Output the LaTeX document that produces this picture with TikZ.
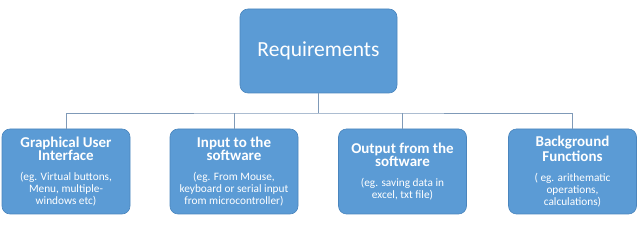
\documentclass[tikz,border=0pt]{standalone}
\usepackage{fontspec}
\setmainfont{Carlito}
\definecolor{boxfill}{HTML}{5B9BD5}
\definecolor{boxline}{HTML}{4A85BD}
\definecolor{conn}{HTML}{7F9AB8}
\newcommand{\ttlfont}{\bfseries\fontsize{15}{16.8}\selectfont}
\newcommand{\subfont}{\mdseries\fontsize{11.3}{11.8}\selectfont}
\begin{document}
\begin{tikzpicture}[x=1pt,y=-1pt,
  box/.style={draw=boxline, line width=0.6pt, fill=boxfill, rounded corners=8pt, text=white, align=center, inner sep=0pt},
  child/.style={box, minimum width=128pt, minimum height=85pt},
  lbl/.style={text=white, align=center, inner sep=0pt},
  wire/.style={draw=conn, line width=0.9pt}]
\useasboundingbox (0,0) rectangle (640,232);
\node[box, minimum width=157pt, minimum height=84pt, font=\fontsize{21.5}{24}\selectfont] (top) at (318.5,51) {Requirements};
\node[child] (b1) at (66,171.5) {};
\node[child] (b2) at (234,171.5) {};
\node[child] (b3) at (402.5,171.5) {};
\node[child] (b4) at (572.5,171.5) {};
\node[lbl] (t1) at (b1.center) {\ttlfont Graphical User\\\ttlfont Interface\\[8pt]\subfont (eg. Virtual buttons,\\\subfont Menu, multiple-\\\subfont windows etc)};
\node[lbl] (t2) at (b2.center) {\ttlfont Input to the\\\ttlfont software\\[8pt]\subfont (eg. From Mouse,\\\subfont keyboard or serial input\\\subfont from microcontroller)};
\node[lbl] (t3) at (b3.center) {\ttlfont Output from the\\\ttlfont software\\[8pt]\subfont (eg. saving data in\\\subfont excel, txt file)};
\node[lbl] (t4) at (b4.center) {\ttlfont Background\\\ttlfont Functions\\[8pt]\subfont ( eg. arithematic\\\subfont operations,\\\subfont calculations)};
\coordinate (bus) at (318.5,113);
\draw[wire] (top.south) -- (bus);
\draw[wire] (b1.north) |- (bus) -| (b4.north);
\draw[wire] (b2.north) -- (b2.north |- bus);
\draw[wire] (b3.north) -- (b3.north |- bus);
\end{tikzpicture}
\end{document}
